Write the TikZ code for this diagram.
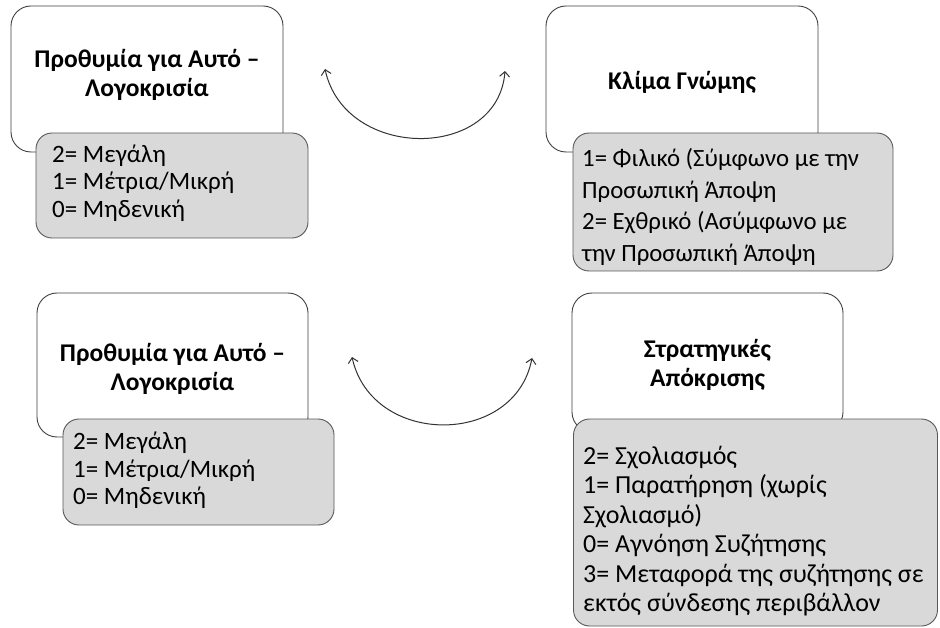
\documentclass[tikz,border=0pt]{standalone}
\usepackage{fontspec}
\setmainfont{Carlito}
\usetikzlibrary{arrows.meta}
\begin{document}
\begin{tikzpicture}[x=1pt,y=-1pt,
  whitebox/.style={draw=black!75, line width=0.9pt, fill=white, rounded corners=20pt, inner sep=0pt},
  titletext/.style={font=\fontsize{25.5}{29}\selectfont\bfseries, align=center, inner sep=0pt},
  graybox/.style={draw=black!65, line width=0.9pt, fill=black!15, rounded corners=16pt, inner sep=0pt},
  itemtext/.style={font=\fontsize{25}{27.5}\selectfont, align=left, anchor=west, inner sep=0pt},
  link/.style={{Straight Barb[length=5pt,width=10pt]}-{Straight Barb[length=5pt,width=10pt]}, line width=1pt, draw=black!80}]
\useasboundingbox[fill=white] (0,0) rectangle (940,628);

% top left
\node[whitebox, minimum width=272pt, minimum height=146pt] (w1) at (147,79) {};
\node[titletext] (h1) at (147,75.3) {Προθυμία για Αυτό –\\Λογοκρισία};
\node[graybox, minimum width=272pt, minimum height=105pt] (g1) at (172,185.5) {};
\node[itemtext] (t1) at (52,183) {2= Μεγάλη\\1= Μέτρια/Μικρή\\0= Μηδενική};

% top right
\node[whitebox, minimum width=272pt, minimum height=146pt] (w2) at (682,79) {};
\node[titletext] (h2) at (682,82.8) {Κλίμα Γνώμης};
\node[graybox, minimum width=320pt, minimum height=138pt] (g2) at (733,202) {};
\node[itemtext, font=\fontsize{24.8}{31.5}\selectfont] (t2) at (582,207) {1= Φιλικό (Σύμφωνο με την\\Προσωπική Άποψη\\2= Εχθρικό (Ασύμφωνο με\\την Προσωπική Άποψη};

% bottom left
\node[whitebox, minimum width=271pt, minimum height=144pt] (w3) at (172.5,365) {};
\node[titletext] (h3) at (172.5,369) {Προθυμία για Αυτό –\\Λογοκρισία};
\node[graybox, minimum width=271pt, minimum height=106pt] (g3) at (198.5,472) {};
\node[itemtext] (t3) at (73,470.5) {2= Μεγάλη\\1= Μέτρια/Μικρή\\0= Μηδενική};

% bottom right
\node[whitebox, minimum width=271pt, minimum height=139pt] (w4) at (707.5,362.5) {};
\node[titletext] (h4) at (707.5,365.3) {Στρατηγικές\\Απόκρισης};
\node[graybox, minimum width=364pt, minimum height=207pt] (g4) at (755.5,522.5) {};
\node[itemtext, font=\fontsize{26}{29.4}\selectfont] (t4) at (583,531) {2= Σχολιασμός\\1= Παρατήρηση (χωρίς\\Σχολιασμό)\\0= Αγνόηση Συζήτησης\\3= Μεταφορά της συζήτησης σε\\εκτός σύνδεσης περιβάλλον};

% connectors
\coordinate (a1) at (325,69);
\coordinate (a2) at (505,71);
\draw[link] (a1) .. controls (345,161) and (498,161) .. (a2);
\coordinate (b1) at (352,357);
\coordinate (b2) at (532,358);
\draw[link] (b1) .. controls (372,447) and (515,447) .. (b2);
\end{tikzpicture}
\end{document}
